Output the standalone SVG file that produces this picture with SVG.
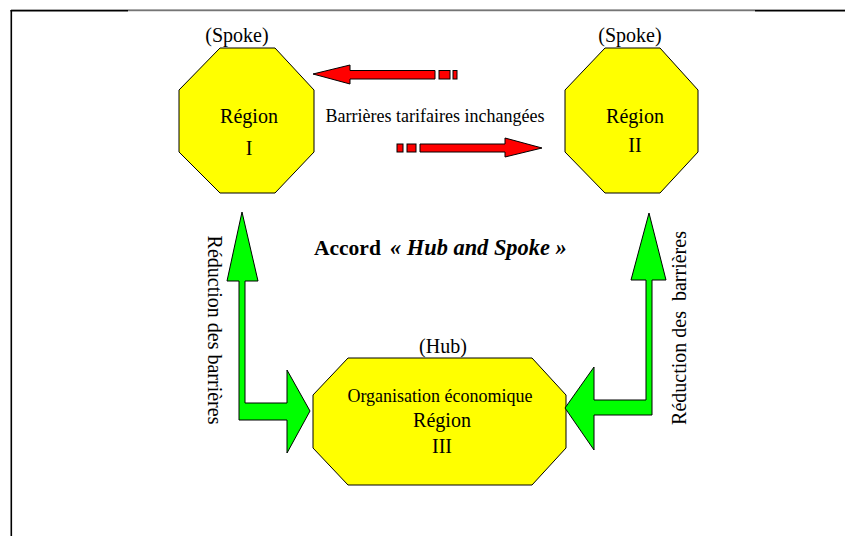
<svg xmlns="http://www.w3.org/2000/svg" width="845" height="536" viewBox="0 0 845 536">
<style>
.t{font-family:"Liberation Serif","Times New Roman",serif;fill:#000}
.node{fill:#FFFF00;stroke:#000;stroke-width:1}
.red{fill:#FF0000;stroke:#000;stroke-width:1}
.green{fill:#00FF00;stroke:#000;stroke-width:1}
</style>
<rect width="845" height="536" fill="#fff"/>
<g id="frame">
<line x1="11" y1="9.5" x2="845" y2="9.5" stroke="#aaa" stroke-width="1"/>
<line x1="128" y1="10.7" x2="755" y2="10.7" stroke="#555" stroke-width="1"/>
<line x1="10.5" y1="10.8" x2="128" y2="10.8" stroke="#000" stroke-width="1.6"/>
<line x1="755" y1="10.8" x2="845" y2="10.8" stroke="#000" stroke-width="1.6"/>
<line x1="11.3" y1="10" x2="11.3" y2="536" stroke="#000" stroke-width="1.6"/>
</g>
<g id="region1">
<polygon class="node" points="220,48 275,48 314,90 314,152 275,193 220,193 179,152 179,90"/>
<text class="t" x="237" y="42" font-size="20" text-anchor="middle">(Spoke)</text>
<text class="t" x="249" y="123" font-size="20" text-anchor="middle">Région</text>
<text class="t" x="249" y="155" font-size="20" text-anchor="middle">I</text>
</g>
<g id="region2">
<polygon class="node" points="605,48 660,48 698,90 698,152 660,193 605,193 565,152 565,90"/>
<text class="t" x="630" y="42" font-size="20" text-anchor="middle">(Spoke)</text>
<text class="t" x="635" y="123" font-size="20" text-anchor="middle">Région</text>
<text class="t" x="635" y="152" font-size="20" text-anchor="middle">II</text>
</g>
<g id="hub">
<polygon class="node" points="348,358 532,358 566,395 566,448 532,485 348,485 313,448 313,395"/>
<text class="t" x="443" y="353" font-size="20" text-anchor="middle">(Hub)</text>
<text class="t" x="440" y="402" font-size="18" text-anchor="middle">Organisation économique</text>
<text class="t" x="442" y="427" font-size="20" text-anchor="middle">Région</text>
<text class="t" x="442" y="453" font-size="20" text-anchor="middle">III</text>
</g>
<g id="connectors">
<path class="red" d="M313,74 L350,65 L350,70.5 L435,70.5 L435,79 L350,79 L350,84 Z"/>
<rect class="red" x="439" y="70.5" width="11" height="8.5"/>
<rect class="red" x="453" y="70.5" width="4" height="8.5"/>
<path class="red" d="M542,148 L505,138 L505,144 L420,144 L420,152 L505,152 L505,157 Z"/>
<rect class="red" x="407" y="144" width="9" height="8"/>
<rect class="red" x="397" y="144" width="6" height="8"/>
<path class="green" d="M242,212 L258,281 L245,281 L245,403 L287,403 L287,370 L310,411 L287,453 L287,420 L239,420 L239,281 L227,281 Z"/>
<path class="green" d="M649,213 L666,280 L652,280 L652,415 L594,415 L594,450 L565,408 L594,367 L594,400 L646,400 L646,280 L631,280 Z"/>
</g>
<g id="labels">
<text class="t" x="435" y="122" font-size="18" text-anchor="middle">Barrières tarifaires inchangées</text>
<text class="t" font-size="20" text-anchor="middle" transform="translate(208,330) rotate(90)">Réduction des barrières</text>
<text class="t" font-size="20" text-anchor="middle" transform="translate(686,328) rotate(-90)" xml:space="preserve">Réduction des  barrières</text>
<text class="t" x="314" y="255" font-size="21.5" font-weight="bold">Accord</text>
<text class="t" x="390" y="255" font-size="22.4" font-weight="bold" font-style="italic">« Hub and Spoke »</text>
</g>
</svg>
